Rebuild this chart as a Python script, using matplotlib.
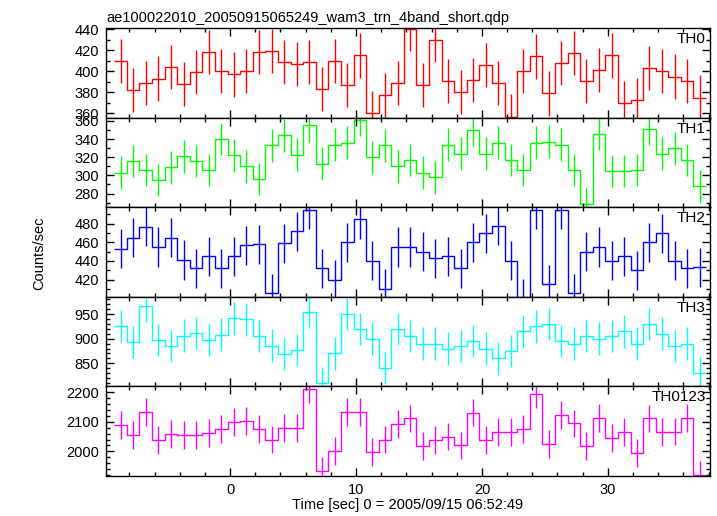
import numpy as np
import matplotlib
matplotlib.use("Agg")
import matplotlib.pyplot as plt
from matplotlib.ticker import MultipleLocator

plt.rcParams["font.family"] = ["Liberation Sans", "DejaVu Sans"]

# bin centres (s), 1 s bins
time_sec = [-8.7, -7.7, -6.7, -5.7, -4.7, -3.7, -2.7, -1.7, -0.7, 0.3,
            1.3, 2.3, 3.3, 4.3, 5.3, 6.3, 7.3, 8.3, 9.3, 10.3,
            11.3, 12.3, 13.3, 14.3, 15.3, 16.3, 17.3, 18.3, 19.3, 20.3,
            21.3, 22.3, 23.3, 24.3, 25.3, 26.3, 27.3, 28.3, 29.3, 30.3,
            31.3, 32.3, 33.3, 34.3, 35.3, 36.3, 37.3]

th0 = [410, 382, 389, 393, 404, 388, 399, 418, 400, 397,
       400, 418, 419, 409, 407, 409, 383, 410, 387, 415,
       360, 377, 389, 440, 387, 430, 391, 380, 392, 406,
       389, 357, 400, 414, 379, 408, 417, 391, 401, 415,
       370, 373, 403, 400, 395, 391, 375]
th1 = [303, 316, 306, 295, 309, 321, 316, 306, 340, 322,
       310, 296, 333, 344, 323, 355, 313, 334, 336, 361,
       320, 333, 310, 317, 303, 298, 334, 324, 350, 324,
       336, 317, 306, 336, 337, 334, 306, 268, 346, 305,
       305, 306, 351, 324, 330, 317, 288]
th2 = [453, 465, 477, 455, 465, 441, 432, 445, 432, 445,
       457, 458, 405, 459, 472, 495, 432, 420, 460, 485,
       440, 410, 455, 455, 450, 443, 445, 432, 460, 470,
       478, 440, 400, 495, 415, 495, 405, 450, 455, 440,
       445, 430, 460, 470, 440, 432, 433]
th3 = [926, 893, 967, 897, 885, 906, 912, 897, 908, 941,
       939, 905, 886, 869, 877, 954, 810, 870, 950, 920,
       900, 840, 920, 905, 890, 890, 880, 885, 895, 880,
       860, 875, 915, 925, 930, 895, 890, 905, 900, 905,
       915, 890, 930, 910, 885, 890, 830]
th0123 = [2088, 2055, 2133, 2038, 2060, 2054, 2056, 2063, 2076, 2099,
          2103, 2074, 2040, 2079, 2079, 2209, 1934, 2002, 2132, 2134,
          1997, 2040, 2092, 2111, 2017, 2038, 2050, 2020, 2131, 2038,
          2066, 2066, 2074, 2194, 2025, 2123, 2094, 2018, 2113, 2046,
          2064, 1994, 2111, 2064, 2067, 2114, 1922]

band_names = ["TH0", "TH1", "TH2", "TH3", "TH0123"]
band_rates = [th0, th1, th2, th3, th0123]
band_errors = [21, 18, 21, 33, 47]
band_colors = ["#ff0000", "#00ff00", "#0000ff", "#00ffff", "#ff00ff"]
band_ylims = [(356, 441), (265, 363.6), (401.4, 497.8), (803, 985), (1917, 2219)]
band_major = [20, 20, 20, 50, 100]
band_minor = [10, 10, 10, 10, 20]

t = np.array(time_sec)
edges = np.append(t - 0.5, t[-1] + 0.5)

fig = plt.figure(figsize=(7.17, 5.16), dpi=100)
axes = fig.subplots(5, 1, sharex=True, gridspec_kw=dict(hspace=0))
fig.subplots_adjust(left=0.148, right=0.990, bottom=0.0775, top=0.9457)

for ax, name, rate, err, color, ylim, maj, mnr in zip(
        axes, band_names, band_rates, band_errors, band_colors,
        band_ylims, band_major, band_minor):
    rate = np.array(rate, dtype=float)
    ax.stairs(rate, edges, baseline=None, color=color, linewidth=1.0)
    ax.errorbar(t, rate, yerr=err, fmt="none", ecolor=color, elinewidth=1.0)
    ax.set_ylim(*ylim)
    ax.yaxis.set_major_locator(MultipleLocator(maj))
    ax.yaxis.set_minor_locator(MultipleLocator(mnr))
    ax.xaxis.set_major_locator(MultipleLocator(10))
    ax.xaxis.set_minor_locator(MultipleLocator(2))
    ax.tick_params(which="both", direction="in", top=True, right=True,
                   labelsize=10.5, pad=5)
    ax.tick_params(which="major", length=6, width=1.0)
    ax.tick_params(which="minor", length=3, width=1.0)
    for sp in ax.spines.values():
        sp.set_linewidth(1.0)
    ax.text(0.993, 0.955, name, transform=ax.transAxes, ha="right", va="top",
            fontsize=11)

axes[0].set_xlim(-9.85, 38.1)
axes[0].set_title("ae100022010_20050915065249_wam3_trn_4band_short.qdp",
                  loc="left", fontsize=10.5, pad=4)
axes[-1].set_xlabel("Time [sec] 0 = 2005/09/15 06:52:49", fontsize=10.5, labelpad=1)
fig.text(0.055, 0.51, "Counts/sec", rotation=90, ha="center", va="center",
         fontsize=10.5)

plt.savefig("out.png", dpi=100)
plt.close(fig)
